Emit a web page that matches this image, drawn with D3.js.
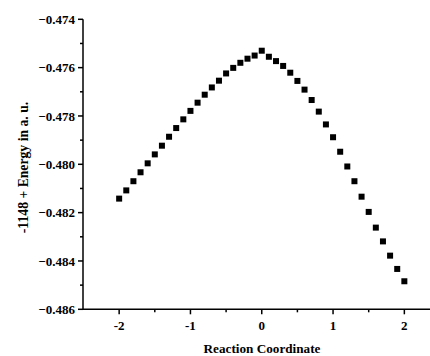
<!DOCTYPE html>
<html>
<head>
<meta charset="utf-8">
<script src="https://cdn.jsdelivr.net/npm/d3@7"></script>
<style>
  body { margin: 0; background: #fff; }
  svg text { font-family: "Liberation Serif", "Times New Roman", serif; font-weight: bold; fill: #000; }
</style>
</head>
<body>
<div id="chart"></div>
<script>
(function(){
  'use strict';

  // reaction coordinate, -2 .. 2 in steps of 0.1
  var coords = [-2.0,-1.9,-1.8,-1.7,-1.6,-1.5,-1.4,-1.3,-1.2,-1.1,-1.0,-0.9,-0.8,-0.7,-0.6,-0.5,-0.4,-0.3,-0.2,-0.1,
                0.0,0.1,0.2,0.3,0.4,0.5,0.6,0.7,0.8,0.9,1.0,1.1,1.2,1.3,1.4,1.5,1.6,1.7,1.8,1.9,2.0];
  // energy (-1148 + E, a.u.)
  var energies = [-0.48142,-0.48108,-0.48070,-0.48033,-0.47996,-0.47959,-0.47923,-0.47886,-0.47850,-0.47814,
                  -0.47779,-0.47745,-0.47712,-0.47682,-0.47654,-0.47624,-0.47601,-0.47580,-0.47563,-0.47550,
                  -0.47530,-0.47555,-0.47573,-0.47593,-0.47621,-0.47655,-0.47691,-0.47734,-0.47782,-0.47835,
                  -0.47888,-0.47948,-0.48009,-0.48070,-0.48134,-0.48197,-0.48262,-0.48319,-0.48378,-0.48433,
                  -0.48484];
  var xTicks = [-2, -1, 0, 1, 2];
  var xMinor = [-1.5, -0.5, 0.5, 1.5, 2.5];
  var yTicks = [-0.486, -0.484, -0.482, -0.480, -0.478, -0.476, -0.474];
  var yMinor = [-0.485, -0.483, -0.481, -0.479, -0.477, -0.475];

  var width = 430, height = 356;
  var x0 = 83, yBottom = 309.3, yTop = 19.3;

  var svg = d3.select("#chart").append("svg")
      .attr("width", width)
      .attr("height", height);

  var x = d3.scaleLinear().domain([-2.5, 2.5]).range([x0 + 0.5, 440]);
  var y = d3.scaleLinear().domain([-0.486, -0.474]).range([yBottom, yTop]);

  // x axis
  var gx = svg.append("g").attr("transform", "translate(0," + yBottom + ")");
  gx.append("line").attr("x1", x0).attr("x2", width).attr("stroke", "#000").attr("stroke-width", 1.5);
  gx.selectAll(".maj").data(xTicks).enter().append("line")
    .attr("x1", d => x(d)).attr("x2", d => x(d)).attr("y1", 0).attr("y2", 5)
    .attr("stroke", "#000").attr("stroke-width", 1.5);
  gx.selectAll(".min").data(xMinor).enter().append("line")
    .attr("x1", d => x(d)).attr("x2", d => x(d)).attr("y1", 0).attr("y2", 3)
    .attr("stroke", "#000").attr("stroke-width", 1.5);
  gx.selectAll("text").data(xTicks).enter().append("text")
    .attr("x", d => x(d)).attr("y", 20.5)
    .attr("text-anchor", "middle").attr("font-size", 13)
    .text(d => d);

  // y axis
  var gy = svg.append("g").attr("transform", "translate(" + x0 + ",0)");
  gy.append("line").attr("y1", yBottom).attr("y2", yTop).attr("stroke", "#000").attr("stroke-width", 1.5);
  gy.selectAll(".maj").data(yTicks).enter().append("line")
    .attr("y1", d => y(d)).attr("y2", d => y(d)).attr("x1", 0).attr("x2", -5)
    .attr("stroke", "#000").attr("stroke-width", 1.5);
  gy.selectAll(".min").data(yMinor).enter().append("line")
    .attr("y1", d => y(d)).attr("y2", d => y(d)).attr("x1", 0).attr("x2", -3)
    .attr("stroke", "#000").attr("stroke-width", 1.5);
  gy.selectAll("text").data(yTicks).enter().append("text")
    .attr("x", -8).attr("y", d => y(d)).attr("dy", "0.35em")
    .attr("text-anchor", "end").attr("font-size", 13)
    .text(d => d3.format(".3f")(d));

  // axis titles
  svg.append("text")
    .attr("x", 262).attr("y", 352.5)
    .attr("text-anchor", "middle").attr("font-size", 13.2)
    .text("Reaction Coordinate");
  svg.append("text")
    .attr("transform", "translate(28,167.5) rotate(-90)")
    .attr("text-anchor", "middle").attr("font-size", 13.7)
    .text("-1148 + Energy in a. u.");

  // points
  var pts = coords.map((c, i) => ({ c: c, e: energies[i] }));
  var s = 6;
  svg.append("g").selectAll("rect").data(pts).enter().append("rect")
    .attr("x", d => x(d.c) - s / 2)
    .attr("y", d => y(d.e) - s / 2)
    .attr("width", s).attr("height", s)
    .attr("fill", "#000");
})();
</script>
</body>
</html>
